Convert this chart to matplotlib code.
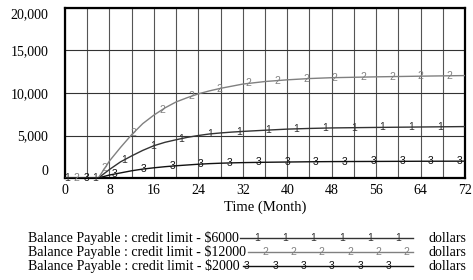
import numpy as np
import matplotlib
matplotlib.use("Agg")
import matplotlib.pyplot as plt

# dados (mes, valor em dolares)
months = [0, 6, 8, 10, 12, 14, 16, 18, 20, 22, 24, 26, 28, 30, 32, 36, 40, 44, 48, 56, 64, 72]
limit_6000 = [0, 0, 1000, 1900, 2600, 3250, 3800, 4200, 4500, 4780, 5000, 5180, 5300, 5400, 5480,
              5620, 5750, 5830, 5890, 5950, 6000, 6050]
limit_12000 = [0, 0, 2000, 3600, 5100, 6400, 7400, 8250, 8950, 9450, 9900, 10250, 10550, 10800, 11050,
               11350, 11550, 11700, 11800, 11900, 11980, 12050]
limit_2000 = [0, 0, 350, 600, 850, 1050, 1200, 1330, 1440, 1530, 1620, 1690, 1740, 1780, 1810,
              1850, 1880, 1910, 1930, 1950, 1970, 1980]

series = [
    ("Balance Payable : credit limit - $6000", limit_6000, "1", "#333333", 0.3),
    ("Balance Payable : credit limit - $12000", limit_12000, "2", "#808080", 2.0),
    ("Balance Payable : credit limit - $2000", limit_2000, "3", "#111111", 3.8),
]
marker_step = 5.17

serif = "Liberation Serif"
sans = "Liberation Sans"

fig = plt.figure(figsize=(4.73, 2.80), dpi=100)
ax = fig.add_axes([65 / 473, 1 - 178 / 280, 400 / 473, 170 / 280])

for name, vals, digit, color, start in series:
    ax.plot(months, vals, color=color, lw=1.0, zorder=3)
    for m in np.arange(start, 72, marker_step):
        v = np.interp(m, months, vals)
        ax.text(m, v, digit, color=color, fontsize=7.5, family=sans,
                ha="center", va="center", zorder=4)

ax.set_xlim(0, 72)
ax.set_ylim(0, 20000)
ax.set_xticks(np.arange(0, 73, 8))
ax.set_xticks(np.arange(0, 73, 4), minor=True)
ax.set_yticks(np.arange(0, 20001, 5000))
ax.set_yticklabels([f"{v:,}" for v in range(0, 20001, 5000)])
ax.grid(True, which="both", axis="x", color="#555555", lw=0.8)
ax.grid(True, which="major", axis="y", color="#333333", lw=0.8)
ax.tick_params(which="both", length=0)
ax.tick_params(axis="x", pad=4)
ax.tick_params(axis="y", pad=12)
for lab in ax.get_xticklabels() + ax.get_yticklabels():
    lab.set_fontfamily(serif)
    lab.set_fontsize(10)
ylabs = ax.get_yticklabels()
ylabs[0].set_verticalalignment("bottom")
ylabs[-1].set_verticalalignment("top")
for sp in ax.spines.values():
    sp.set_linewidth(1.6)
    sp.set_color("black")
ax.set_xlabel("Time (Month)", fontfamily=serif, fontsize=10.5, labelpad=3)

# legenda no estilo Vensim, em coordenadas de pixel
lg = fig.add_axes([0, 0, 1, 1], zorder=-1)
lg.set_xlim(0, 473)
lg.set_ylim(280, 0)
lg.axis("off")
rows_y = [238, 252, 266]
line_x0 = [240, 248, 243]
first_mark = [257, 265, 247]
renderer = fig.canvas.get_renderer()
for (name, vals, digit, color, start), y, x0, fm in zip(series, rows_y, line_x0, first_mark):
    t = lg.text(28, y, name, fontfamily=serif, fontsize=10, ha="left", va="center")
    # ajusta o tamanho para o texto terminar junto da linha
    w = t.get_window_extent(renderer).width
    t.set_fontsize(10 * (x0 - 30) / w)
    lg.plot([x0, 413], [y, y], color=color, lw=1.0)
    for x in np.arange(fm, 410, 28.3):
        lg.text(x, y, digit, color=color, fontsize=7.5, family=sans, ha="center", va="center")
    lg.text(428, y, "dollars", fontfamily=serif, fontsize=10, ha="left", va="center")

fig.savefig("out.png", dpi=100)
